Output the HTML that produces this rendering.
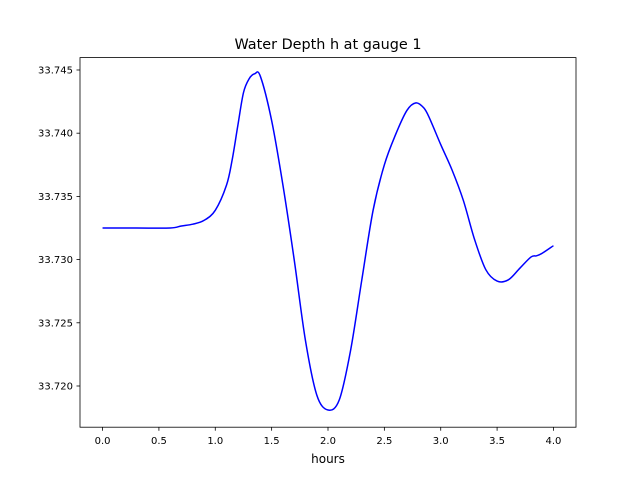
<!DOCTYPE html>
<html><head><meta charset="utf-8"><style>
body{margin:0;background:#fff;}
svg{display:block;font-family:"DejaVu Sans","Liberation Sans",sans-serif;}
</style></head><body>
<svg id="chart" width="640" height="480" viewBox="0 0 640 480">
<rect width="640" height="480" fill="#fff"/>
<text x="328" y="49" font-size="14.4" text-anchor="middle">Water Depth h at gauge 1</text>
<g id="xt"></g>
<g id="yt"></g>
<path id="line" fill="none" stroke="#0000ff" stroke-width="1.5"/>
<rect x="80" y="57.6" width="496" height="369.6" fill="none" stroke="#000" stroke-width="0.8"/>
<text x="328" y="463" font-size="12" text-anchor="middle">hours</text>
</svg>
<script>
const hours=[0,0.3,0.6,0.7,0.8,0.9,1.0,1.1,1.15,1.2,1.25,1.3,1.35,1.4,1.5,1.6,1.7,1.8,1.9,2.0,2.1,2.2,2.3,2.4,2.5,2.6,2.7,2.78,2.85,2.9,3.0,3.1,3.2,3.3,3.4,3.5,3.6,3.7,3.8,3.85,3.9,4.0];
const depth=[33.7325,33.7325,33.7325,33.73266,33.7328,33.7331,33.7339,33.7359,33.7379,33.7406,33.7432,33.7443,33.7447,33.7445,33.7410,33.7359,33.7300,33.7236,33.7193,33.7181,33.7189,33.7228,33.7284,33.7339,33.7375,33.7399,33.7418,33.7424,33.7420,33.7412,33.7391,33.7371,33.7347,33.7316,33.7292,33.7283,33.7284,33.7293,33.7302,33.7303,33.7305,33.7311];
const xTicks=["0.0","0.5","1.0","1.5","2.0","2.5","3.0","3.5","4.0"];
const yTicks=["33.720","33.725","33.730","33.735","33.740","33.745"];
const X0=80,X1=576,Y0=57.6,Y1=427.2,xmin=-0.2,xmax=4.2,ymin=33.71674,ymax=33.74598;
const sx=v=>X0+(v-xmin)/(xmax-xmin)*(X1-X0);
const sy=v=>Y1-(v-ymin)/(ymax-ymin)*(Y1-Y0);
const NS="http://www.w3.org/2000/svg";
const xt=document.getElementById('xt'),yt=document.getElementById('yt');
xTicks.forEach(t=>{const x=sx(+t);
const l=document.createElementNS(NS,'line');l.setAttribute('x1',x);l.setAttribute('x2',x);l.setAttribute('y1',Y1);l.setAttribute('y2',Y1+3.5);l.setAttribute('stroke','#000');l.setAttribute('stroke-width','0.8');


xt.appendChild(l);
const s=document.createElementNS(NS,'text');s.setAttribute('x',x);s.setAttribute('y',Y1+17);s.setAttribute('font-size','10');s.setAttribute('text-anchor','middle');s.textContent=t;


xt.appendChild(s);});
yTicks.forEach(t=>{const y=sy(+t);
const l=document.createElementNS(NS,'line');l.setAttribute('x1',X0-3.5);l.setAttribute('x2',X0);l.setAttribute('y1',y);l.setAttribute('y2',y);l.setAttribute('stroke','#000');l.setAttribute('stroke-width','0.8');


yt.appendChild(l);
const s=document.createElementNS(NS,'text');s.setAttribute('x',X0-7);s.setAttribute('y',y+3.5);s.setAttribute('font-size','10');s.setAttribute('text-anchor','end');s.textContent=t;


yt.appendChild(s);});
const pts=hours.map((h,i)=>[sx(h),sy(depth[i])]);
let d='M'+pts[0][0]+','+pts[0][1];
for(let i=0;i<pts.length-1;i++){const p0=pts[Math.max(i-1,0)],p1=pts[i],p2=pts[i+1],p3=pts[Math.min(i+2,pts.length-1)];
const c1=[p1[0]+(p2[0]-p0[0])/6,p1[1]+(p2[1]-p0[1])/6],c2=[p2[0]-(p3[0]-p1[0])/6,p2[1]-(p3[1]-p1[1])/6];
d+=' C'+c1+' '+c2+' '+p2;}
document.getElementById('line').setAttribute('d',d);
</script>
</body></html>
